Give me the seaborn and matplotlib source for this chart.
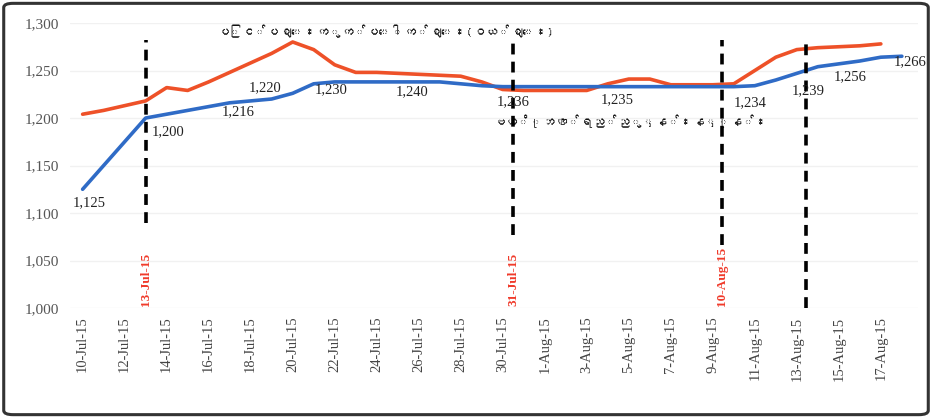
import matplotlib
matplotlib.use("Agg")
import matplotlib.pyplot as plt
import matplotlib.dates as mdates
from matplotlib import font_manager, ft2font
from matplotlib.patches import FancyBboxPatch
import seaborn as sns
import pandas as pd
import numpy as np

# ---------------- data ----------------
dates = pd.date_range("2015-07-10", "2015-08-18", freq="D")

market_rate = [1204, 1208, 1213, 1218, 1232, 1229, 1238, 1248, 1258, 1268,
               1280, 1272, 1256, 1248, 1248, 1247, 1246, 1245, 1244, 1238,
               1230, 1229, 1229, 1229, 1229, 1236, 1241, 1241, 1235, 1235,
               1235, 1236, 1250, 1264, 1272, 1274, 1275, 1276, 1278, np.nan]

reference_rate = [1125, 1150, 1175, 1200, 1204, 1208, 1212, 1216, 1218, 1220,
                  1226, 1236, 1238, 1238, 1238, 1238, 1238, 1238, 1236, 1234,
                  1233, 1233, 1233, 1233, 1233, 1233, 1233, 1233, 1233, 1233,
                  1233, 1233, 1234, 1240, 1247, 1254, 1257, 1260, 1264, 1265]

market_label = "ပြင်ပဈေးကွက်ပေါက်ဈေး(ဝယ်ဈေး)"
reference_label = "ဗဟိုဘဏ်ရည်ညွှန်းနှုန်း"

# point labels on the reference-rate line: (date, label text)
point_label_dates = ["2015-07-10", "2015-07-13", "2015-07-17", "2015-07-19",
                     "2015-07-22", "2015-07-26", "2015-07-30", "2015-08-05",
                     "2015-08-10", "2015-08-13", "2015-08-15", "2015-08-18"]
point_label_texts = ["1,125", "1,200", "1,216", "1,220", "1,230", "1,240",
                     "1,236", "1,235", "1,234", "1,239", "1,256", "1,266"]
point_label_offsets = [(7, -13), (22, -14), (8, -9), (-7, 11), (-4, -8),
                       (-7, -10), (10, -15), (-12, -13), (16, -16),
                       (11, -17), (11, -13), (8, -5)]

# event markers (dashed vertical lines)
event_dates = ["2015-07-13 00:00", "2015-07-30 12:00", "2015-08-09 10:00", "2015-08-13 10:00"]
event_texts = ["13-Jul-15", "31-Jul-15", "10-Aug-15", ""]
event_line_bottoms = [1090, 1077, 1066, 1000]

y_ticks = [1000, 1050, 1100, 1150, 1200, 1250, 1300]

# ---------------- fonts ----------------
def find_font_for(ch):
    for f in font_manager.findSystemFonts():
        try:
            ft = ft2font.FT2Font(f)
            if ord(ch) in ft.get_charmap():
                return f
        except Exception:
            pass
    return None

mm_path = find_font_for("\u1015")
if mm_path:
    font_manager.fontManager.addfont(mm_path)
    mm_family = font_manager.FontProperties(fname=mm_path).get_name()
    mm_fams = [mm_family, "DejaVu Sans"]
else:
    mm_fams = ["DejaVu Sans"]

sns.set_theme(style="white")
plt.rcParams["font.family"] = ["Liberation Serif", "DejaVu Serif"]

df = pd.DataFrame({"date": dates, "market": market_rate, "reference": reference_rate})

fig = plt.figure(figsize=(9.32, 4.18), dpi=100)
ax = fig.add_axes([0.0755, 0.263, 0.910, 0.682])

orange = "#EE5128"
blue = "#2F6BC6"

sns.lineplot(data=df, x="date", y="market", ax=ax, color=orange, lw=2.6)
sns.lineplot(data=df, x="date", y="reference", ax=ax, color=blue, lw=2.6)

ax.set_ylim(1000, 1300)
ax.set_xlim(pd.Timestamp("2015-07-10") - pd.Timedelta(hours=14),
            pd.Timestamp("2015-07-10") + pd.Timedelta(hours=int(39.8 * 24)))
ax.set_yticks(y_ticks)
ax.set_yticklabels([f"{v:,}" for v in y_ticks])
ax.set_xticks(dates[::2])
ax.xaxis.set_major_formatter(mdates.DateFormatter("%-d-%b-%y"))
ax.tick_params(axis="x", rotation=90, labelsize=10.5, colors="#444444", pad=6, length=0)
ax.tick_params(axis="y", labelsize=11, colors="#555555", pad=8, length=0)
ax.set_xlabel("")
ax.set_ylabel("")
for s in ax.spines.values():
    s.set_visible(False)
ax.grid(axis="y", color="#f1f1f1", lw=1)

# event lines
for d, txt, bot in zip(event_dates, event_texts, event_line_bottoms):
    t = pd.Timestamp(d)
    ax.plot([t, t], [bot, 1282], color="black", lw=2.6, ls=(0, (3, 2)), zorder=4)
    if txt:
        ax.text(t, 1002, txt, rotation=90, ha="center", va="bottom",
                color="#F03A2A", fontsize=9.5, fontweight="bold", zorder=5)

# point labels
lookup = dict(zip(df["date"], df["reference"]))
for d, txt, off in zip(point_label_dates, point_label_texts, point_label_offsets):
    t = pd.Timestamp(d)
    ax.annotate(txt, xy=(t, lookup[t]), xytext=off, textcoords="offset pixels",
                ha="center", va="center", fontsize=10.5, color="#222222", zorder=6)

# series labels
ax.text(pd.Timestamp("2015-07-24 10:00"), 1291, market_label, ha="center", va="center",
        fontsize=9, color="#111111", family=mm_fams, fontweight="bold")
ax.text(pd.Timestamp("2015-08-05 01:00"), 1196, reference_label, ha="center", va="center",
        fontsize=9, color="#111111", family=mm_fams, fontweight="bold")

# figure border
fig.patches.append(FancyBboxPatch((0.004, 0.008), 0.992, 0.984,
                                  boxstyle="round,pad=0,rounding_size=0.01",
                                  transform=fig.transFigure, fill=False,
                                  edgecolor="#333333", lw=2.2))

fig.savefig("out.png", dpi=100)
